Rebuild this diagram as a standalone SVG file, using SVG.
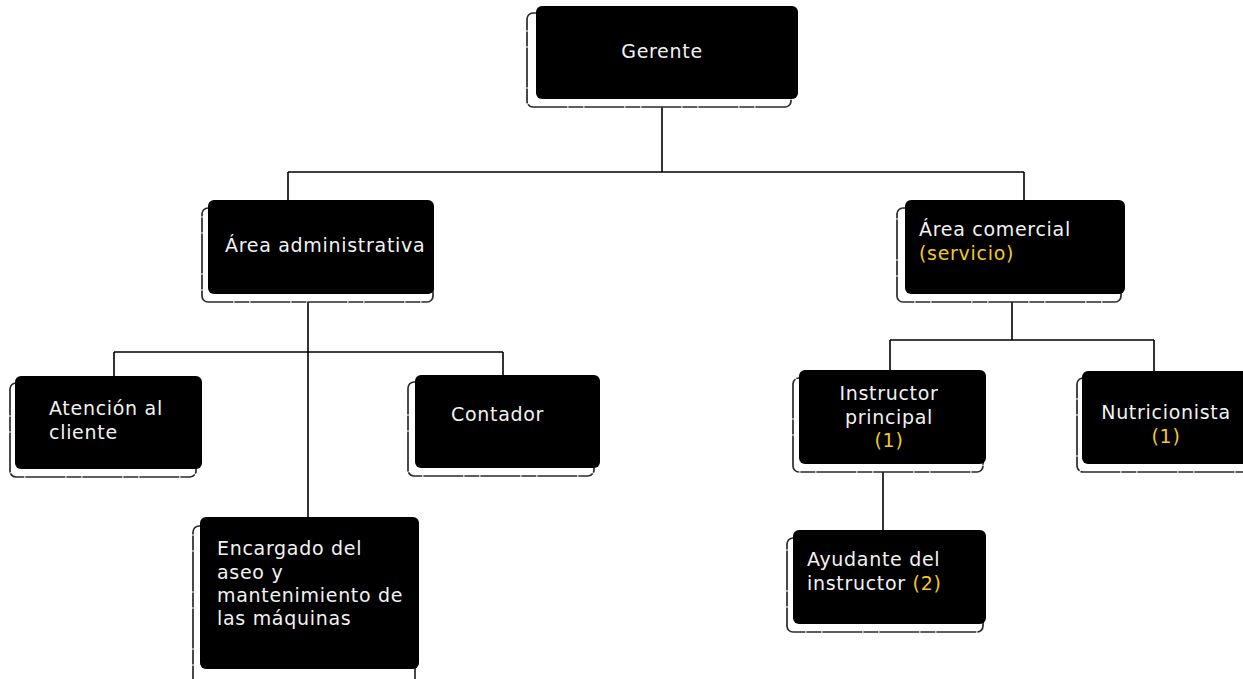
<svg xmlns="http://www.w3.org/2000/svg" width="1243" height="679" viewBox="0 0 1243 679">
<style>
.sh{fill:#fff;stroke:#2a2a2a;stroke-width:1.7;stroke-dasharray:40 1 15 1}
.bx{fill:#000}
.t{font-family:"DejaVu Sans","Liberation Sans",sans-serif;font-size:19px;letter-spacing:0.7px;fill:#f2f2f2}
.y{fill:#f2c928}
.c{fill:none;stroke:#000;stroke-width:1.6}
</style>
<rect width="1243" height="679" fill="#fff"/>
<g id="connectors">
<path class="c" d="M662 99V172M288 172H1024M288 172V201M1024 172V201"/>
<path class="c" d="M308 294V517M114 352H503M114 352V376M503 352V375"/>
<path class="c" d="M1012 294V340M890 340H1154M890 340V371M1154 340V371"/>
<path class="c" d="M883 464V530"/>
</g>
<g id="gerente">
<rect class="sh" x="527" y="13" width="264" height="94" rx="6"/>
<rect class="bx" x="536" y="6" width="262" height="93" rx="6"/>
<text class="t" x="662" y="58" text-anchor="middle">Gerente</text>
</g>
<g id="area-administrativa">
<rect class="sh" x="202" y="208" width="231" height="94" rx="6"/>
<rect class="bx" x="208" y="200" width="226" height="94" rx="6"/>
<text class="t" x="225" y="252">Área administrativa</text>
</g>
<g id="area-comercial">
<rect class="sh" x="897" y="208" width="224" height="94" rx="6"/>
<rect class="bx" x="905" y="200" width="220" height="94" rx="6"/>
<text class="t" x="919" y="236">Área comercial</text>
<text class="t y" x="919" y="260">(servicio)</text>
</g>
<g id="atencion">
<rect class="sh" x="10" y="383" width="186" height="94" rx="6"/>
<rect class="bx" x="15" y="376" width="187" height="93" rx="6"/>
<text class="t" x="49" y="415">Atención al</text>
<text class="t" x="49" y="439">cliente</text>
</g>
<g id="contador">
<rect class="sh" x="408" y="382" width="186" height="94" rx="6"/>
<rect class="bx" x="415" y="375" width="185" height="93" rx="6"/>
<text class="t" x="451" y="421">Contador</text>
</g>
<g id="encargado">
<rect class="sh" x="193" y="526" width="222" height="160" rx="6"/>
<rect class="bx" x="200" y="517" width="219" height="152" rx="6"/>
<text class="t" x="217" y="555">Encargado del</text>
<text class="t" x="217" y="579">aseo y</text>
<text class="t" x="217" y="602">mantenimiento de</text>
<text class="t" x="217" y="625">las máquinas</text>
</g>
<g id="instructor-principal">
<rect class="sh" x="793" y="378" width="190" height="94" rx="6"/>
<rect class="bx" x="799" y="370" width="187" height="94" rx="6"/>
<text class="t" x="889" y="400" text-anchor="middle">Instructor</text>
<text class="t" x="889" y="424" text-anchor="middle">principal</text>
<text class="t y" x="889" y="447" text-anchor="middle">(1)</text>
</g>
<g id="nutricionista">
<rect class="sh" x="1077" y="378" width="180" height="94" rx="6"/>
<rect class="bx" x="1082" y="371" width="175" height="93" rx="6"/>
<text class="t" x="1166" y="419" text-anchor="middle">Nutricionista</text>
<text class="t y" x="1166" y="443" text-anchor="middle">(1)</text>
</g>
<g id="ayudante">
<rect class="sh" x="787" y="538" width="196" height="94" rx="6"/>
<rect class="bx" x="793" y="530" width="193" height="94" rx="6"/>
<text class="t" x="807" y="566">Ayudante del</text>
<text class="t" x="807" y="590">instructor <tspan class="y">(2)</tspan></text>
</g>
</svg>
